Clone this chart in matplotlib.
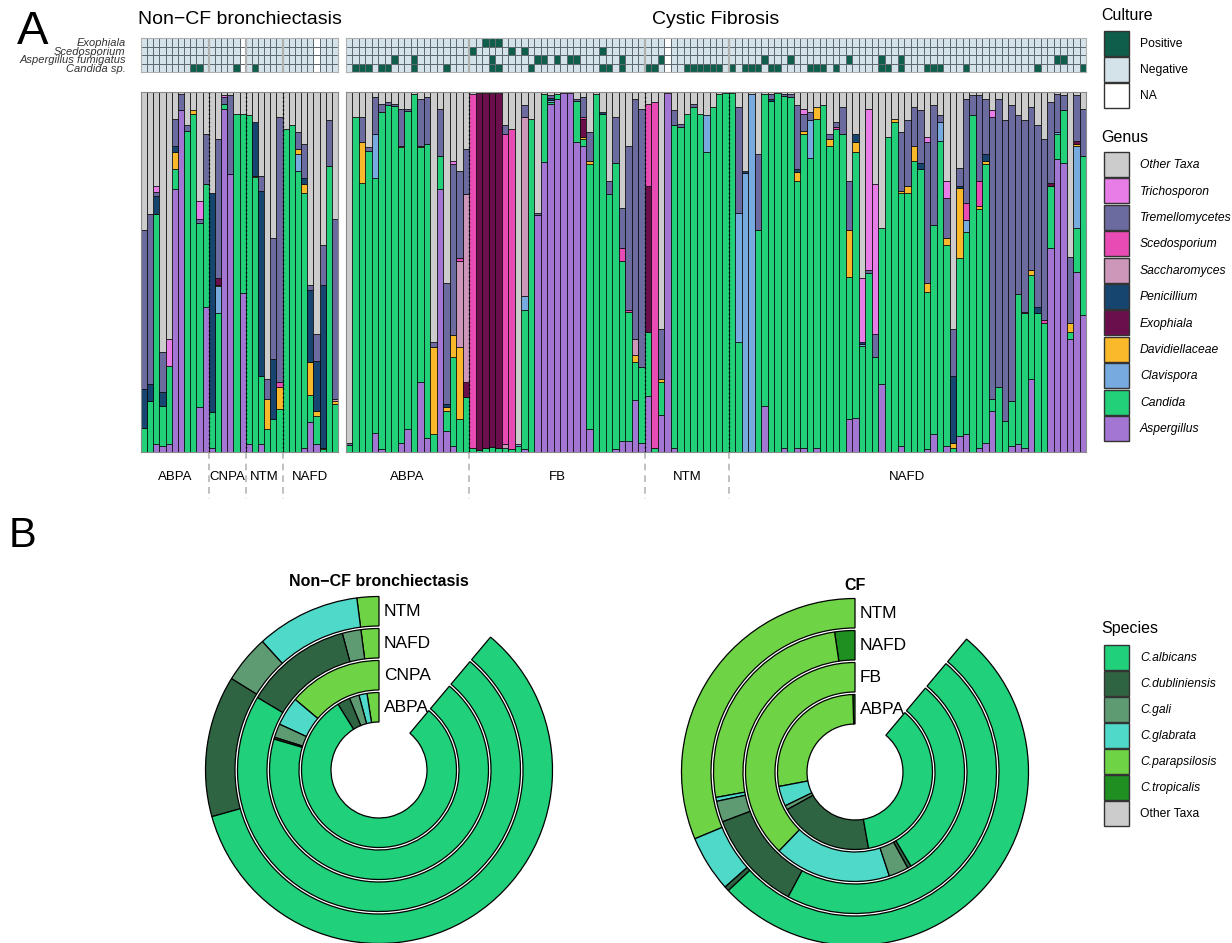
import numpy as np
import matplotlib.pyplot as plt
from matplotlib.colors import ListedColormap
from matplotlib.patches import Rectangle

plt.rcParams["font.family"] = ["Liberation Sans", "DejaVu Sans"]

W, H = 1232, 943

# ---------------- genus palette (stacking order, bottom -> top) ----------------
genera = ["Aspergillus", "Candida", "Clavispora", "Davidiellaceae", "Exophiala",
          "Penicillium", "Saccharomyces", "Scedosporium", "Tremellomycetes",
          "Trichosporon", "Other Taxa"]
genus_colors = ["#a276d2", "#22d07a", "#77aade", "#f9b92a", "#6b0f4c",
                "#16456f", "#cc97b9", "#e84bb4", "#6b6b9f", "#e87de8", "#cccccc"]

# ---------------- non-CF bronchiectasis, 32 samples ----------------
noncf_groups = ["ABPA", "CNPA", "NTM", "NAFD"]
noncf_group_sizes = [11, 6, 6, 9]

noncf_aspergillus = [0, 0, .021, .017, .021, .730, .950, 0, 0, .124, .404,
                     .012, 0, .953, .772, 0, .441,
                     .021, 0, .021, 0, 0, 0,
                     0, 0, 0, .012, .082, .021, 0, 0, 0]
noncf_candida = [.068, .143, .639, .112, .219, .056, 0, .893, .940, .513, .340,
                 .098, .385, .013, 0, .939, .498,
                 .914, .763, .189, .063, .091, .119,
                 .897, .907, .781, .708, .075, .080, .008, .795, .133]
noncf_penicillium = [.107, .046, .051, .037, 0, .019, 0, 0, 0, 0, 0,
                     .610, 0, 0, 0, 0, 0,
                     0, .149, .515, 0, .168, 0,
                     0, 0, 0, .018, .200, .139, .452, 0, 0]
noncf_tremellomycetes = [.443, .471, .012, .112, 0, .074, .045, .014, 0, .009, .139,
                         0, .387, .019, .219, 0, 0,
                         0, 0, .042, .056, .336, .736,
                         0, 0, .046, .094, .014, .075, .112, .126, .499]
noncf_other = [.382, .340, .261, .722, .685, .075, .005, .093, .051, .303, .117,
               .280, .130, .009, .009, .061, .061,
               .065, .084, .233, .797, .405, .070,
               .103, .093, .112, .144, .536, .671, .424, .079, .354]
# sparse genera: sample index -> proportion
noncf_clavispora = {12: .075, 25: .047}
noncf_davidiellaceae = {5: .046, 8: .009, 12: .004, 18: .004, 20: .084, 22: .061,
                        25: .014, 26: .024, 27: .093, 28: .014, 29: .004, 31: .009}
noncf_exophiala = {12: .019}
noncf_saccharomyces = {31: .005}
noncf_scedosporium = {22: .014}
noncf_trichosporon = {2: .016, 4: .075, 9: .051, 13: .006}

# ---------------- cystic fibrosis, 114 samples ----------------
cf_groups = ["ABPA", "FB", "NTM", "NAFD"]
cf_group_sizes = [19, 27, 13, 55]

cf_aspergillus = [
    0, 0, 0, 0, .054, .007, 0, 0, .026, .063, 0, .194, .040, 0, .730, .059, .017, 0, 0,
    0, 0, 0, 0, 0, 0, 0, 0, .007, 0, .659, .805, .967, .981, .997, .997, .860, .850, .063,
    0, 0, 0, .007, .030, .030, .144, .026,
    .155, 0, .104, .997, .010, 0, 0, 0, 0, 0, 0, 0, 0,
    0, 0, 0, 0, 0, .128, 0, 0, .010, 0, .011, .010, 0, .010, 0, 0, 0, 0, .091, .095,
    0, 0, 0, .189, 0, 0, .017, 0, 0, 0, .007, .049, 0, .017, 0, .044, .050, 0, .010, .026,
    .114, 0, 0, .017, .021, .011, .203, 0, 0, .567, .813, .804, .315, .501, .380]
cf_candida = [
    .019, .930, .748, .837, .708, .937, .963, .962, .820, .885, .995, .652, .816, .050,
    .093, .056, .247, .091, .152,
    .010, .005, .010, .015, .012, .012, .007, .016, .387, .925, 0, .190, .005, .014, 0, 0,
    .116, .019, .737, .995, .939, .716, .797, .500, .359, .107, .210,
    .178, .010, .090, 0, .897, .902, .939, .958, .939, .832, .958, .995, .998,
    .998, .305, 0, 0, .617, .867, .976, .997, .980, .986, .742, .873, .818, .915, .963,
    .851, .897, .883, .396, .737, .295, .497, .263, .433, .874, .916, .703, .720, .809,
    .785, .438, .582, .865, .559, .011, .495, .562, .935, .664, .774, .033, .180, .086,
    .125, .419, .374, .289, .385, .359, .172, .070, .145, .018, .121, .443]
cf_tremellomycetes = [
    .007, 0, .070, .009, .103, .023, .009, .005, .102, .005, 0, .130, .130, .014, .130,
    .336, .476, .242, .126,
    0, 0, 0, 0, 0, .023, 0, 0, .033, 0, .005, 0, .009, 0, 0, 0, .005, .056, .079, 0, 0,
    .037, .126, .111, .457, .666, .717,
    0, 0, .140, 0, .042, .009, 0, .009, 0, 0, 0, 0, 0,
    0, .294, 0, 0, .210, 0, .014, 0, .005, .009, .177, .047, .023, 0, 0, .014, .014, .075,
    .135, 0, 0, .009, .065, 0, 0, 0, .163, .182, .107, .145, .391, .332, .019, .112, .131,
    .051, .289, .056, .238, .153, .783, .801, .835, .821, .495, .531, .452, .504, .503,
    .224, .107, .042, .186, .126, .130]
cf_other = [
    .975, .070, .070, .154, .014, .033, .028, .033, .047, .047, .005, .019, .014, .694,
    .047, .531, .191, .219, .158,
    .005, .003, .003, .003, .003, .093, .103, .979, .037, .075, .336, .005, .009, .005,
    .003, .003, .019, .014, .112, .005, .056, .247, .070, .322, .149, .019, .047,
    .033, .028, .657, .003, .051, .089, .061, .033, .061, .065, .042, .005, .002,
    .002, .042, .219, .005, .173, .005, .005, .003, .005, .005, .037, .047, .056, .042,
    .037, .117, .084, .042, .247, .117, .518, .047, .256, .378, .126, .075, .112, .079,
    .042, .051, .126, .037, .065, .247, .657, .210, .019, .009, .009, .019, .051, .019,
    .079, .037, .065, .079, .042, .093, .131, .028, .005, .009, .457, .009, .047]
cf_clavispora = {4: .121, 26: .005, 27: .038, 31: .005, 55: .103, 60: .359, 61: .776,
                 62: .995, 71: .103, 79: .005, 91: .051, 95: .033, 109: .005, 112: .229}
cf_davidiellaceae = {2: .112, 8: .005, 11: .005, 13: .242, 15: .009, 16: .060, 17: .201,
                     36: .005, 37: .009, 44: .019, 48: .009, 69: .026, 70: .009, 72: .033,
                     74: .018, 77: .131, 78: .028, 84: .009, 85: .005, 86: .019, 87: .042,
                     89: .024, 92: .018, 93: .014, 94: .193, 97: .009, 98: .009,
                     105: .014, 111: .024, 112: .005}
cf_exophiala = {18: .042, 20: .992, 21: .987, 22: .982, 23: .985, 36: .051, 46: .406,
                108: .009, 112: .009}
cf_penicillium = {15: .009, 31: .005, 39: .005, 61: .005, 65: .005, 69: .007, 78: .023,
                  79: .005, 88: .019, 93: .187, 94: .007, 98: .019, 106: .018}
cf_saccharomyces = {17: .238, 18: .522, 24: .009, 27: .498, 44: .045}
cf_scedosporium = {17: .009, 19: .985, 24: .863, 25: .890, 36: .005, 42: .037, 43: .005,
                   46: .228, 47: .962, 75: .005, 95: .047, 97: .070, 104: .005, 107: .007}
cf_trichosporon = {16: .009, 70: .014, 79: .177, 80: .447, 81: .416, 89: .014, 92: .047,
                   99: .019}

# ---------------- culture results (column indices) ----------------
culture_rows = ["Exophiala", "Scedosporium", "Aspergillus fumigatus", "Candida sp."]
noncf_culture_pos = {"Candida sp.": [8, 9, 15, 18]}
noncf_culture_na = [16, 28]
cf_culture_pos = {
    "Exophiala": [21, 22, 23],
    "Scedosporium": [19, 25, 27, 39],
    "Aspergillus fumigatus": [7, 10, 22, 29, 30, 32, 34, 35, 42, 48, 64, 68, 77, 82, 85,
                              109, 110],
    "Candida sp.": [1, 2, 3, 5, 6, 10, 15, 22, 23, 28, 39, 40, 42, 46, 47, 52, 53, 54, 55,
                    56, 57, 59, 61, 62, 63, 65, 66, 71, 72, 73, 75, 82, 83, 85, 89, 90, 91,
                    95, 106, 113],
}
cf_culture_na = [49]
culture_labels = ["Positive", "Negative", "NA"]
culture_colors = ["#0f5e4b", "#d4e3ea", "#ffffff"]

# ---------------- Candida species per ring (inner -> outer) ----------------
species = ["C.albicans", "C.dubliniensis", "C.gali", "C.glabrata", "C.parapsilosis",
           "C.tropicalis", "Other Taxa"]
species_colors = ["#20d07a", "#2f6442", "#5e9b72", "#4fd9c9", "#6fd445", "#1f8f22",
                  "#cccccc"]

noncf_rings = ["ABPA", "CNPA", "NAFD", "NTM"]
noncf_albicans = [.900, .770, .815, .670]
noncf_dubliniensis = [.030, .003, .138, .148]
noncf_gali = [.023, .023, .024, .050]
noncf_glabrata = [.019, .048, 0, .109]
noncf_parapsilosis = [.028, .156, .023, .023]
noncf_tropicalis = [0, 0, 0, 0]

cf_rings = ["ABPA", "FB", "NAFD", "NTM"]
cf_albicans = [.406, .341, .526, .584]
cf_dubliniensis = [.222, .006, .129, .005]
cf_gali = [.010, .033, .027, 0]
cf_glabrata = [.047, .194, .005, .059]
cf_parapsilosis = [.310, .425, .288, .352]
cf_tropicalis = [.005, 0, .026, 0]


def dense(values, n):
    if isinstance(values, dict):
        out = np.zeros(n)
        for i, v in values.items():
            out[i] = v
        return out
    out = np.asarray(values, dtype=float)
    assert len(out) == n, len(out)
    return out


fig = plt.figure(figsize=(W / 100, H / 100), dpi=100)


def px_axes(x0, y0, x1, y1):
    return fig.add_axes([x0 / W, 1 - y1 / H, (x1 - x0) / W, (y1 - y0) / H])


def stacked_panel(ax, columns, groups, sizes):
    n = sum(sizes)
    table = [dense(c, n) for c in columns]
    totals = np.sum(table, axis=0)
    x = np.arange(n)
    bottom = np.zeros(n)
    for vals, color in zip(table, genus_colors):
        frac = vals / totals
        keep = frac > 0
        ax.bar(x[keep], frac[keep], bottom=bottom[keep], width=1.0, color=color,
               edgecolor="black", linewidth=0.5)
        bottom += frac
    ax.set_xlim(-0.5, n - 0.5)
    ax.set_ylim(0, 1)
    ax.set_xticks([])
    ax.set_yticks([])
    for s in ax.spines.values():
        s.set_color("#8a8a8a")
        s.set_linewidth(0.8)
    edges = np.cumsum(sizes)
    for b in edges[:-1]:
        ax.axvline(b - 0.5, color="black", ls=(0, (1, 2)), lw=1.0)
        ax.plot([b - 0.5, b - 0.5], [0, -0.13], color="#b5b5b5", ls=(0, (4, 3)),
                lw=1.2, clip_on=False)
    starts = np.concatenate([[0], edges[:-1]])
    for g, s, k in zip(groups, starts, sizes):
        ax.text(s + (k - 1) / 2, -0.07, g, ha="center", va="center", fontsize=9.5)


def culture_panel(ax, pos, na, sizes, labels):
    n = sum(sizes)
    # colour index: 0 positive, 1 negative, 2 not available
    grid = np.ones((len(culture_rows), n))
    for r, name in enumerate(culture_rows):
        for c in pos.get(name, []):
            grid[r, c] = 0
    grid[:, na] = 2
    ax.pcolormesh(np.arange(n + 1) - 0.5, np.arange(len(culture_rows) + 1), grid,
                  cmap=ListedColormap(culture_colors), vmin=-0.5, vmax=2.5,
                  edgecolors="#5f6b70", linewidth=0.5)
    ax.set_xlim(-0.5, n - 0.5)
    ax.set_ylim(len(culture_rows), 0)
    ax.set_xticks([])
    for b in np.cumsum(sizes)[:-1]:
        ax.axvline(b - 0.5, color="#b0b0b0", lw=1.6)
    for s in ax.spines.values():
        s.set_color("#b0b0b0")
        s.set_linewidth(0.8)
    if labels:
        ax.set_yticks(np.arange(len(culture_rows)) + 0.5)
        ax.set_yticklabels(culture_rows, fontsize=8, style="italic", color="#333333")
        ax.tick_params(axis="y", length=0, pad=11)
    else:
        ax.set_yticks([])


noncf_columns = [noncf_aspergillus, noncf_candida, noncf_clavispora, noncf_davidiellaceae,
                 noncf_exophiala, noncf_penicillium, noncf_saccharomyces,
                 noncf_scedosporium, noncf_tremellomycetes, noncf_trichosporon, noncf_other]
cf_columns = [cf_aspergillus, cf_candida, cf_clavispora, cf_davidiellaceae, cf_exophiala,
              cf_penicillium, cf_saccharomyces, cf_scedosporium, cf_tremellomycetes,
              cf_trichosporon, cf_other]

stacked_panel(px_axes(141, 92, 338, 452), noncf_columns, noncf_groups, noncf_group_sizes)
stacked_panel(px_axes(346, 92, 1086, 452), cf_columns, cf_groups, cf_group_sizes)
culture_panel(px_axes(141, 38, 338, 72), noncf_culture_pos, noncf_culture_na,
              noncf_group_sizes, True)
culture_panel(px_axes(346, 38, 1086, 72), cf_culture_pos, cf_culture_na,
              cf_group_sizes, False)

# ---------------- panel B: Candida species rings ----------------
HOLE, RING_W, RING_GAP = 48, 29.5, 2.5


def donut(cx, cy, rings, series):
    half = 185
    ax = px_axes(cx - half, cy - half, cx + half, cy + half)
    # drawn from 12 o'clock counter-clockwise: tropicalis ... albicans
    order = [5, 4, 3, 2, 1, 0]
    for i, ring in enumerate(rings):
        vals = [series[k][i] for k in order]
        cols = [species_colors[k] for k in order]
        keep = [j for j, v in enumerate(vals) if v > 0]
        vals = [vals[j] for j in keep]
        cols = [cols[j] for j in keep]
        total = sum(vals)
        r_out = HOLE + i * (RING_W + RING_GAP) + RING_W
        wedges, _ = ax.pie(vals + [total * 40 / 320], radius=r_out, startangle=90,
                           counterclock=True, colors=cols + ["white"],
                           wedgeprops=dict(width=RING_W, edgecolor="black", linewidth=0.9))
        wedges[-1].set_visible(False)
        ax.text(5, r_out - RING_W / 2, ring, ha="left", va="center", fontsize=12.5)
    ax.set_xlim(-half, half)
    ax.set_ylim(-half, half)
    ax.set_aspect("equal")
    ax.axis("off")


donut(379, 770, noncf_rings, [noncf_albicans, noncf_dubliniensis, noncf_gali,
                              noncf_glabrata, noncf_parapsilosis, noncf_tropicalis])
donut(855, 772, cf_rings, [cf_albicans, cf_dubliniensis, cf_gali, cf_glabrata,
                           cf_parapsilosis, cf_tropicalis])

# ---------------- titles, panel letters and legends ----------------
ov = fig.add_axes([0, 0, 1, 1])
ov.set_xlim(0, W)
ov.set_ylim(H, 0)
ov.axis("off")
ov.patch.set_alpha(0)

ov.text(33, 32, "A", fontsize=34, ha="center", va="center")
ov.text(22, 536, "B", fontsize=30, ha="center", va="center")
ov.text(240, 20, "Non\u2212CF bronchiectasis", fontsize=14, ha="center", va="center")
ov.text(716, 20, "Cystic Fibrosis", fontsize=14, ha="center", va="center")
ov.text(379, 582, "Non\u2212CF bronchiectasis", fontsize=11.5, fontweight="bold",
        ha="center", va="center")
ov.text(855, 586, "CF", fontsize=11.5, fontweight="bold", ha="center", va="center")


def legend_block(x, y_title, y0, step, title, labels, colors, italic):
    ov.text(x - 3, y_title, title, fontsize=11.5, ha="left", va="center")
    for k, (lab, col) in enumerate(zip(labels, colors)):
        y = y0 + k * step
        ov.add_patch(Rectangle((x, y), 25, step - 1.5, facecolor=col,
                               edgecolor="#333333", linewidth=1.0))
        slanted = italic and (lab != "Other Taxa" or title == "Genus")
        ov.text(x + 36, y + step / 2, lab, fontsize=8.7, ha="left", va="center",
                style="italic" if slanted else "normal")


legend_block(1104, 16, 31, 26, "Culture", culture_labels, culture_colors, False)
legend_block(1104, 137, 152, 26.4, "Genus", genera[::-1], genus_colors[::-1], True)
legend_block(1104, 629, 645, 26, "Species", species, species_colors, True)

fig.savefig("out.png", dpi=100)
